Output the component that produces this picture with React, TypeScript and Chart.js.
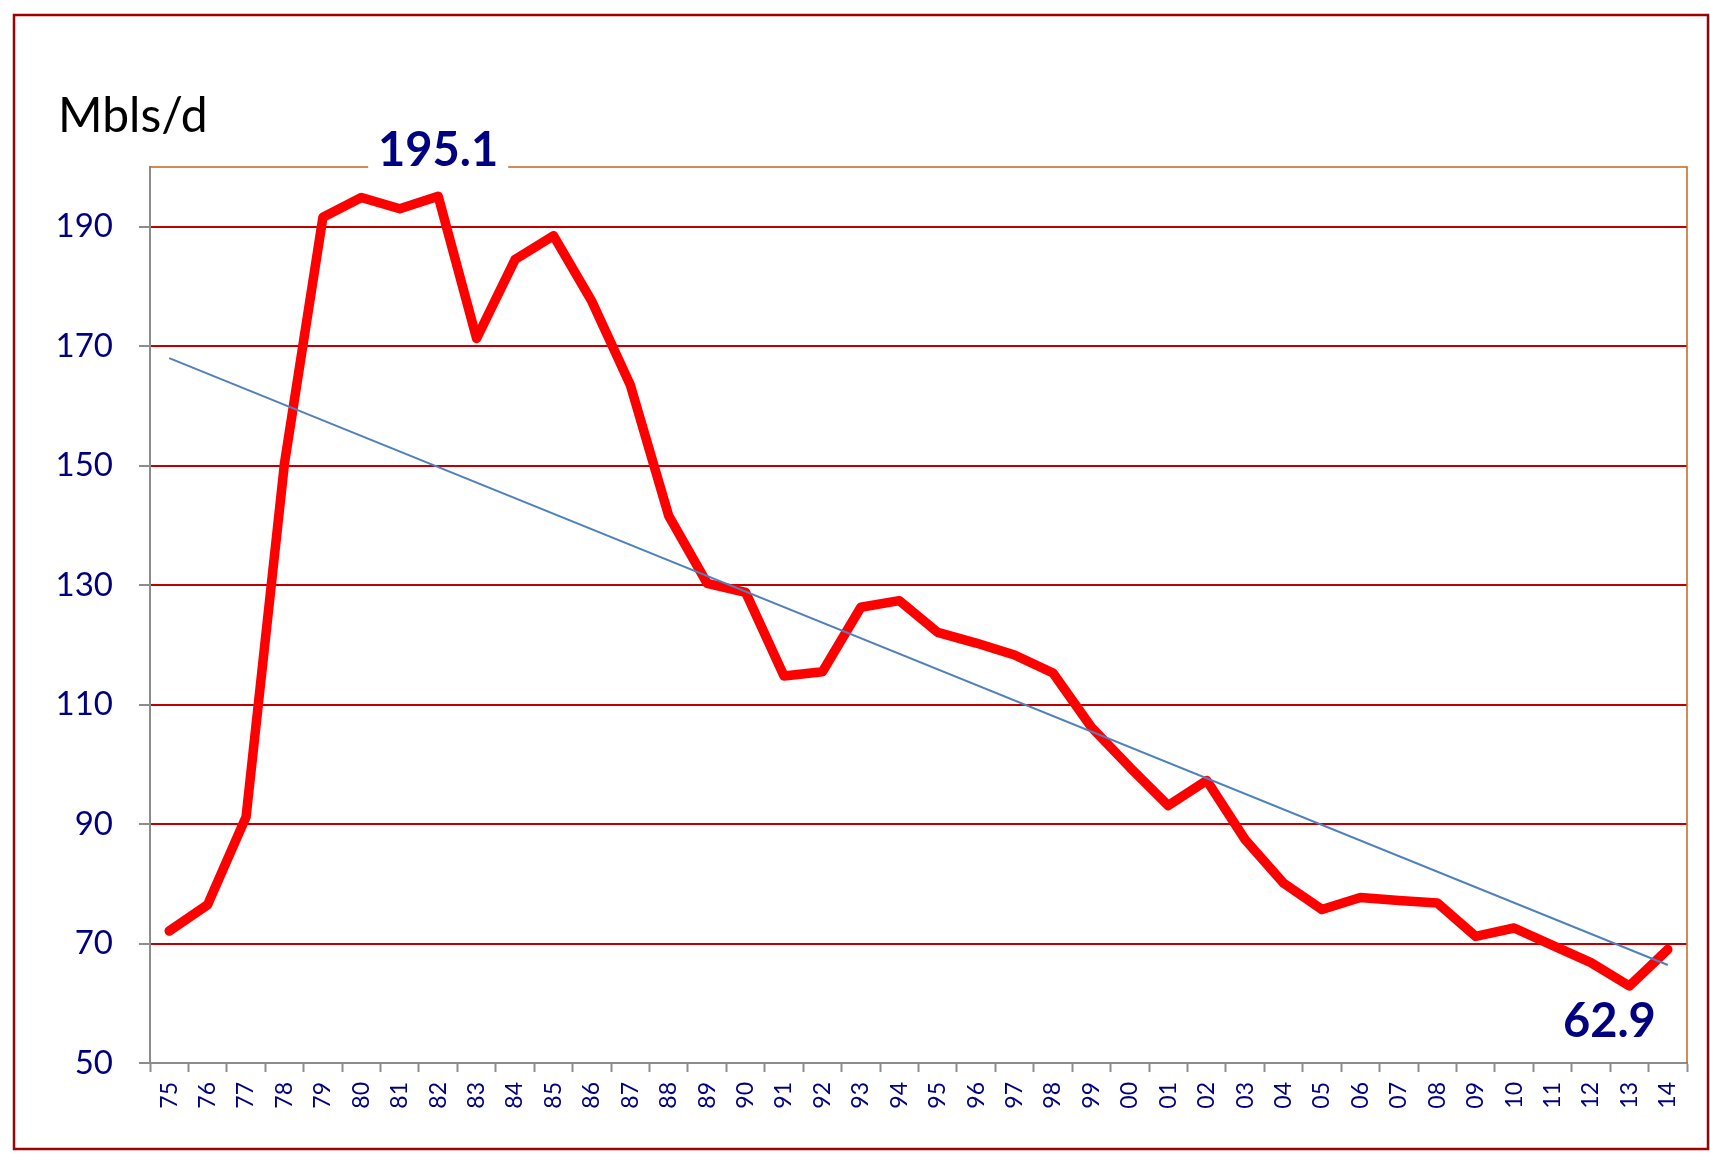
import React, { useEffect, useRef } from 'react';
import { Chart, registerables } from 'chart.js';

Chart.register(...registerables);

const years = ['75','76','77','78','79','80','81','82','83','84','85','86','87','88','89','90','91','92','93','94','95','96','97','98','99','00','01','02','03','04','05','06','07','08','09','10','11','12','13','14'];
const production = [72.1,76.5,91.2,150.4,191.6,194.9,193.0,195.1,171.3,184.5,188.5,177.5,163.5,141.6,130.3,128.8,114.8,115.5,126.3,127.4,122.1,120.3,118.3,115.3,106.2,99.5,93.1,97.3,87.4,80.1,75.7,77.7,77.2,76.8,71.2,72.6,69.7,66.8,62.9,69.0];
const trendEnds = [168.0, 66.4];
const yTickValues = [50, 70, 90, 110, 130, 150, 170, 190];
const yMin = 50;
const yMax = 200;
const unitLabel = 'Mbls/d';

const NAVY = '#000080';
const FONT = 'Lato, "Open Sans", sans-serif';

export default function App() {
  const ref = useRef<HTMLCanvasElement | null>(null);

  useEffect(() => {
    const canvas = ref.current;
    if (!canvas) return;
    const trendData: (number | null)[] = years.map(() => null);
    trendData[0] = trendEnds[0];
    trendData[years.length - 1] = trendEnds[1];

    const maxIdx = production.indexOf(Math.max(...production));
    const minIdx = production.indexOf(Math.min(...production));

    const decor = {
      id: 'decor',
      afterDraw(chart: any) {
        const ctx = chart.ctx as CanvasRenderingContext2D;
        const { left, top, right, bottom } = chart.chartArea;
        const xs = chart.scales.x;
        const ys = chart.scales.y;
        ctx.save();
        // outer frame
        ctx.strokeStyle = '#a00000';
        ctx.lineWidth = 2.5;
        ctx.strokeRect(14, 15, 1694, 1134);
        // plot area top/right border
        ctx.strokeStyle = '#c8641e';
        ctx.lineWidth = 1.5;
        ctx.beginPath();
        ctx.moveTo(left, top);
        ctx.lineTo(right, top);
        ctx.lineTo(right, bottom);
        ctx.stroke();
        // unit label
        ctx.fillStyle = '#000000';
        ctx.font = `48px ${FONT}`;
        ctx.textAlign = 'left';
        ctx.textBaseline = 'alphabetic';
        ctx.fillText(unitLabel, 58, 132);
        // peak label
        const px = xs.getPixelForValue(maxIdx);
        ctx.fillStyle = '#ffffff';
        ctx.fillRect(px - 70, top - 45, 140, 48);
        ctx.font = `bold 47px ${FONT}`;
        ctx.fillStyle = NAVY;
        ctx.textAlign = 'center';
        ctx.fillText(production[maxIdx].toFixed(1), px, top - 1);
        // minimum label
        const mx = xs.getPixelForValue(minIdx);
        const my = ys.getPixelForValue(production[minIdx]);
        ctx.fillText(production[minIdx].toFixed(1), mx - 20, my + 51);
        ctx.restore();
      },
    };

    const chart = new Chart(canvas, {
      type: 'line',
      data: {
        labels: years,
        datasets: [
          {
            label: 'Trend',
            data: trendData,
            borderColor: '#4f81bd',
            borderWidth: 2,
            pointRadius: 0,
            spanGaps: true,
            tension: 0,
          },
          {
            label: 'Production',
            data: production,
            borderColor: '#ff0000',
            borderWidth: 9.5,
            pointRadius: 0,
            tension: 0,
            borderJoinStyle: 'round',
            borderCapStyle: 'round',
          },
        ],
      },
      options: {
        responsive: false,
        animation: false,
        devicePixelRatio: 1,
        layout: { padding: { left: 0, top: 167, right: 23, bottom: 0 } },
        plugins: { legend: { display: false }, tooltip: { enabled: false } },
        scales: {
          x: {
            type: 'category',
            offset: true,
            grid: {
              offset: true,
              drawOnChartArea: false,
              drawTicks: true,
              tickLength: 9,
              tickColor: '#8c8c8c',
              tickWidth: 2,
            },
            border: { display: true, color: '#8c8c8c', width: 2 },
            ticks: {
              autoSkip: false,
              maxRotation: 90,
              minRotation: 90,
              padding: 10,
              color: NAVY,
              font: { family: FONT, size: 23 },
            },
            afterFit: (s: any) => {
              s.height = 90;
              s.paddingLeft = 0;
              s.paddingRight = 0;
            },
          },
          y: {
            min: yMin,
            max: yMax,
            afterBuildTicks: (s: any) => { s.ticks = yTickValues.map((v) => ({ value: v })); },
            grid: {
              color: (c: any) => (c.tick && c.tick.value === yMin ? 'rgba(0,0,0,0)' : '#c00000'),
              lineWidth: 2,
              tickLength: 11,
              tickColor: '#8c8c8c',
              tickWidth: 2,
            },
            border: { display: true, color: '#8c8c8c', width: 2 },
            ticks: {
              padding: 26,
              color: NAVY,
              font: { family: FONT, size: 33 },
            },
            afterFit: (s: any) => {
              s.width = 150;
              s.paddingTop = 0;
              s.paddingBottom = 0;
            },
          },
        },
      },
      plugins: [decor],
    } as any);

    return () => chart.destroy();
  }, []);

  return (
    <div style={{ position: 'absolute', left: 0, top: 0, width: 1710, height: 1153, background: '#ffffff' }}>
      <canvas ref={ref} width={1710} height={1153} style={{ display: 'block' }} />
    </div>
  );
}
